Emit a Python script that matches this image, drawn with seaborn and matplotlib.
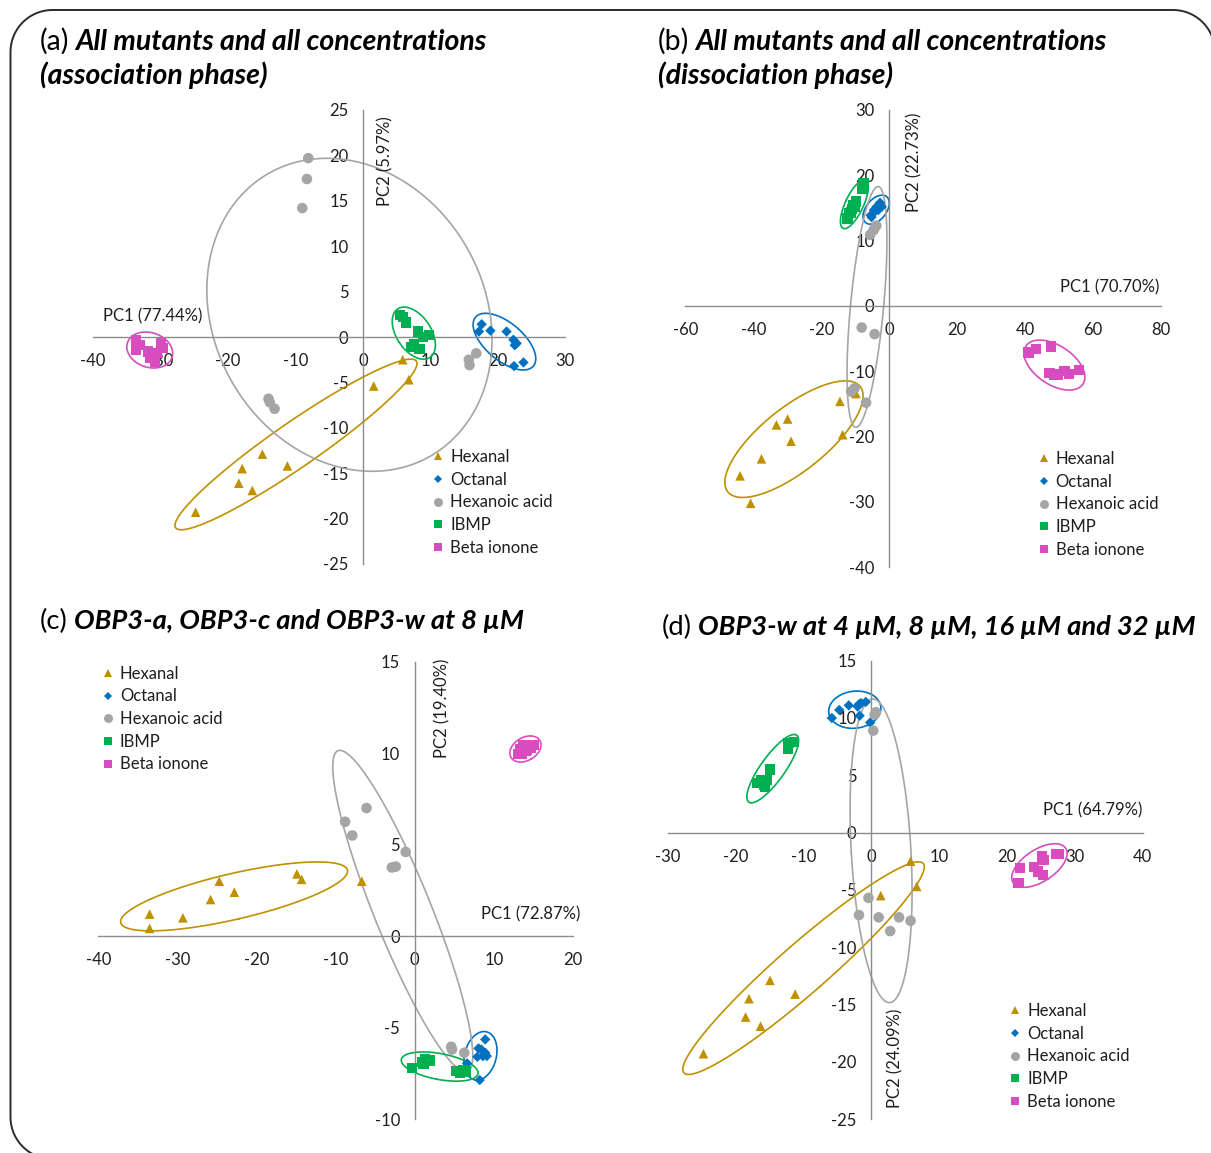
import matplotlib

matplotlib.use("Agg")
import matplotlib.pyplot as plt
import numpy as np
import pandas as pd
import seaborn as sns
from matplotlib.lines import Line2D
from matplotlib.transforms import IdentityTransform

COMPOUNDS = ["Hexanal", "Octanal", "Hexanoic acid", "IBMP", "Beta ionone"]

# (a) all mutants, association phase  -> (PC1, PC2)
A_HEXANAL = [(5.9, -2.5), (6.8, -4.7), (1.6, -5.4), (-14.9, -12.9), (-11.2, -14.2),
             (-17.9, -14.5), (-18.4, -16.1), (-16.4, -16.9), (-24.8, -19.3)]
A_OCTANAL = [(17.6, 1.4), (17.2, 0.6), (18.9, 0.7), (21.3, 0.6), (22.3, -0.3),
             (22.5, -0.9), (22.8, -0.7), (23.8, -2.8), (22.4, -3.2)]
A_HEXANOIC = [(-8.1, 19.7), (-8.3, 17.4), (-9.0, 14.2), (-14.0, -6.8), (-13.8, -7.2),
              (-13.1, -7.9), (15.7, -2.5), (15.8, -3.1), (16.8, -1.8)]
A_IBMP = [(5.5, 2.4), (5.9, 2.2), (6.4, 1.6), (8.2, 0.6), (8.9, 0.0),
          (9.8, 0.2), (7.2, -1.1), (7.6, -0.8), (8.4, -1.3)]
A_BETA = [(-33.6, -0.3), (-33.0, -0.9), (-33.6, -1.4), (-31.9, -1.6), (-31.5, -2.3),
          (-30.8, -2.7), (-29.9, -0.7), (-29.6, -1.2), (-30.5, -1.8)]

# (b) all mutants, dissociation phase
B_HEXANAL = [(-14.5, -14.6), (-9.8, -13.4), (-13.7, -19.7), (-29.9, -17.3), (-33.2, -18.2),
             (-28.9, -20.7), (-37.6, -23.4), (-43.9, -26.0), (-40.8, -30.2)]
B_OCTANAL = [(-2.7, 15.8), (-3.7, 15.2), (-4.5, 14.7), (-5.4, 13.9), (-3.2, 14.7),
             (-4.7, 14.2), (-2.2, 15.2), (-5.2, 13.6), (-2.9, 15.4)]
B_HEXANOIC = [(-3.8, 12.3), (-4.2, 12.0), (-4.6, 11.6), (-5.6, 10.9), (-8.1, -3.3),
              (-4.3, -4.3), (-10.2, -12.6), (-11.2, -13.1), (-6.8, -14.8)]
B_IBMP = [(-7.6, 18.8), (-7.9, 18.0), (-9.8, 16.0), (-10.6, 15.5), (-11.0, 14.8),
          (-11.7, 14.2), (-12.3, 13.4), (-10.1, 15.2), (-11.3, 14.3)]
B_BETA = [(41.0, -7.1), (43.3, -6.6), (47.7, -6.2), (47.2, -10.3), (48.5, -10.5),
          (49.8, -10.6), (51.6, -9.9), (52.9, -10.4), (55.9, -9.8)]

# (c) OBP3-a, OBP3-c, OBP3-w at 8 uM
C_HEXANAL = [(-33.5, 1.2), (-33.5, 0.42), (-29.3, 1.0), (-25.8, 2.0), (-24.7, 3.0),
             (-22.8, 2.4), (-14.9, 3.4), (-14.3, 3.1), (-6.7, 3.0)]
C_OCTANAL = [(8.9, -5.65), (8.05, -6.14), (8.9, -6.38), (8.6, -6.56), (7.9, -6.6),
             (9.1, -6.56), (6.6, -6.96), (8.2, -7.87), (8.4, -6.2)]
C_HEXANOIC = [(-6.1, 7.0), (-8.8, 6.25), (-7.9, 5.5), (-1.15, 4.6), (-2.9, 3.75),
              (-2.4, 3.8), (4.6, -6.05), (4.7, -6.2), (6.25, -6.38)]
C_IBMP = [(-0.37, -7.23), (0.9, -6.87), (1.3, -6.74), (1.1, -7.0), (1.95, -6.8),
          (5.2, -7.36), (6.1, -7.33), (5.7, -7.47), (6.4, -7.4)]
C_BETA = [(13.0, 9.95), (13.3, 10.2), (13.7, 10.45), (14.0, 10.1), (14.3, 10.45),
          (14.7, 10.3), (15.1, 10.45), (14.2, 10.2), (13.5, 9.95)]

# (d) OBP3-w at 4, 8, 16 and 32 uM
D_HEXANAL = [(5.8, -2.5), (6.7, -4.7), (1.4, -5.5), (-14.9, -12.9), (-11.2, -14.1),
             (-18.0, -14.5), (-18.5, -16.1), (-16.3, -16.9), (-24.7, -19.3)]
D_OCTANAL = [(-5.8, 10.0), (-4.7, 10.7), (-3.3, 11.1), (-1.8, 11.2), (-1.5, 11.3),
             (-0.8, 11.4), (-1.7, 10.2), (-0.15, 9.6), (-2.0, 11.0)]
D_HEXANOIC = [(0.7, 10.5), (0.5, 10.3), (0.3, 8.9), (-0.4, -5.7), (-1.8, -7.2),
              (1.1, -7.4), (4.1, -7.4), (5.8, -7.7), (2.8, -8.6)]
D_IBMP = [(-11.4, 7.9), (-12.2, 7.8), (-12.3, 7.3), (-14.9, 5.5), (-16.2, 4.6),
          (-16.8, 4.3), (-15.6, 4.0), (-15.3, 4.6), (-15.8, 4.2)]
D_BETA = [(21.9, -3.1), (21.7, -4.4), (24.0, -3.0), (25.2, -2.1), (25.5, -2.4),
          (24.6, -3.4), (25.3, -3.7), (27.2, -1.9), (27.6, -1.9)]

PC_LABELS = {
    "a": ("PC1 (77.44%)", "PC2 (5.97%)"),
    "b": ("PC1 (70.70%)", "PC2 (22.73%)"),
    "c": ("PC1 (72.87%)", "PC2 (19.40%)"),
    "d": ("PC1 (64.79%)", "PC2 (24.09%)"),
}

PALETTE = {"Hexanal": "#BF9000", "Octanal": "#0070C0", "Hexanoic acid": "#A5A5A5",
           "IBMP": "#00B050", "Beta ionone": "#D84CC0"}
MARKERS = {"Hexanal": "^", "Octanal": "D", "Hexanoic acid": "o", "IBMP": "s", "Beta ionone": "s"}
SIZES = {"Hexanal": 48, "Octanal": 28, "Hexanoic acid": 58, "IBMP": 55, "Beta ionone": 55}

W, H = 1211, 1153
AXIS_GREY = "#8C8C8C"
TEXT = "#1E1E1E"
FS = 12

sns.set_style("white")
plt.rcParams["font.family"] = ["Lato", "DejaVu Sans"]
plt.rcParams["axes.unicode_minus"] = False


def to_frame(groups):
    rows = []
    for name, pts in zip(COMPOUNDS, groups):
        for x, y in pts:
            rows.append({"pc1": x, "pc2": y, "compound": name})
    return pd.DataFrame(rows)


def draw_ellipse(ax, pts, color, n_std=1.45, pad=8):
    # covariance ellipse worked out in pixel space, padded by a few pixels
    xy = ax.transData.transform(np.asarray(pts))
    center = xy.mean(axis=0)
    vals, vecs = np.linalg.eigh(np.cov(xy, rowvar=False))
    radii = n_std * np.sqrt(vals) + pad
    t = np.linspace(0, 2 * np.pi, 240)
    ring = (np.column_stack([np.cos(t), np.sin(t)]) * radii) @ vecs.T + center
    ring = ax.transData.inverted().transform(ring)
    ax.plot(ring[:, 0], ring[:, 1], color=color, lw=1.2, zorder=2)


def pca_panel(fig, rect, groups, xlim, ylim, xstep, ystep, labels, pc1_xy, pc2_xy, legend_xy):
    ax = fig.add_axes([rect[0] / W, 1 - rect[3] / H, (rect[2] - rect[0]) / W, (rect[3] - rect[1]) / H])
    ax.set_xlim(*xlim)
    ax.set_ylim(*ylim)
    ax.patch.set_alpha(0)
    for side in ["top", "right"]:
        ax.spines[side].set_visible(False)
    for side in ["left", "bottom"]:
        ax.spines[side].set_position(("data", 0))
        ax.spines[side].set_color(AXIS_GREY)
        ax.spines[side].set_linewidth(1.0)
    ax.set_xticks(np.arange(xlim[0], xlim[1] + 1, xstep))
    ax.set_yticks(np.arange(ylim[0], ylim[1] + 1, ystep))
    ax.tick_params(direction="inout", length=7, width=1.0, color=AXIS_GREY,
                   labelsize=FS, labelcolor=TEXT)
    ax.tick_params(axis="x", pad=8)
    ax.tick_params(axis="y", pad=7)

    df = to_frame(groups)
    sns.scatterplot(data=df, x="pc1", y="pc2", hue="compound", style="compound", size="compound",
                    hue_order=COMPOUNDS, style_order=COMPOUNDS, size_order=COMPOUNDS,
                    palette=PALETTE, markers=MARKERS, sizes=SIZES, linewidth=0, alpha=1,
                    ax=ax, zorder=3)
    for name, pts in zip(COMPOUNDS, groups):
        draw_ellipse(ax, pts, PALETTE[name])
    ax.set_xlabel("")
    ax.set_ylabel("")

    ax.text(*pc1_xy, labels[0], ha="center", va="center", fontsize=FS, color=TEXT)
    ax.text(*pc2_xy, labels[1], ha="center", va="center", rotation=90, fontsize=FS, color=TEXT)

    sns.move_legend(ax, "upper left", bbox_to_anchor=legend_xy, frameon=False, title=None,
                    fontsize=FS, borderpad=0, borderaxespad=0, handletextpad=0.3,
                    handlelength=0.8, labelspacing=0.4, markerscale=0.85)
    for txt in ax.get_legend().get_texts():
        txt.set_color(TEXT)
    return ax


def panel_title(fig, x_px, y_px, tag, line1, line2=None, size=20.5):
    renderer = fig.canvas.get_renderer()
    t = fig.text(x_px / W, 1 - y_px / H, tag, fontsize=size, va="baseline", color="black")
    bb = t.get_window_extent(renderer)
    fig.text((bb.x1 + 0.3 * size) / W, 1 - y_px / H, line1, fontsize=size, va="baseline",
             fontweight="bold", style="italic", color="black")
    if line2:
        fig.text(x_px / W, 1 - (y_px + 34) / H, line2, fontsize=size, va="baseline",
                 fontweight="bold", style="italic", color="black")


def outer_frame(fig, left=10.5, top=10, right=1215, bottom=1159, r=42):
    # only the parts of the rounded box that show: bottom-left corner, left, top, top-right corner
    def arc(cx, cy, a0, a1):
        a = np.radians(np.linspace(a0, a1, 40))
        return cx + r * np.cos(a), cy + r * np.sin(a)

    pieces = [arc(left + r, bottom - r, 90, 180), arc(left + r, top + r, 180, 270),
              arc(right - r, top + r, 270, 360)]
    xs = np.concatenate([p[0] for p in pieces])
    ys = np.concatenate([p[1] for p in pieces])
    fig.add_artist(Line2D(xs, H - ys, transform=IdentityTransform(), color="#2B2B2B", lw=1.4))


fig = plt.figure(figsize=(W / 100, H / 100), dpi=100)
outer_frame(fig)

pca_panel(fig, (93.1, 110, 565.3, 564), [A_HEXANAL, A_OCTANAL, A_HEXANOIC, A_IBMP, A_BETA],
          (-40, 30), (-25, 25), 10, 5, PC_LABELS["a"], (-31.1, 2.3), (3.4, 19.4), (0.717, 0.253))
pca_panel(fig, (685.4, 110, 1160.9, 567.3), [B_HEXANAL, B_OCTANAL, B_HEXANOIC, B_IBMP, B_BETA],
          (-60, 80), (-40, 30), 20, 10, PC_LABELS["b"], (64.9, 2.9), (7.4, 22.0), (0.740, 0.254))
pca_panel(fig, (98.2, 661.7, 573.1, 1119), [C_HEXANAL, C_OCTANAL, C_HEXANOIC, C_IBMP, C_BETA],
          (-40, 20), (-10, 15), 10, 5, PC_LABELS["c"], (14.6, 1.2), (3.5, 12.45), (0.007, 0.991))
pca_panel(fig, (667.5, 660.7, 1142.8, 1119), [D_HEXANAL, D_OCTANAL, D_HEXANOIC, D_IBMP, D_BETA],
          (-30, 40), (-25, 15), 10, 5, PC_LABELS["d"], (32.6, 1.9), (3.6, -19.7), (0.718, 0.253))

panel_title(fig, 40, 50, "(a)", "All mutants and all concentrations", "(association phase)")
panel_title(fig, 658, 50, "(b)", "All mutants and all concentrations", "(dissociation phase)")
panel_title(fig, 40, 629, "(c)", "OBP3-a, OBP3-c and OBP3-w at 8 µM", size=19.7)
panel_title(fig, 662, 635, "(d)", "OBP3-w at 4 µM, 8 µM, 16 µM and 32 µM", size=19.7)

fig.savefig("out.png", dpi=100)
